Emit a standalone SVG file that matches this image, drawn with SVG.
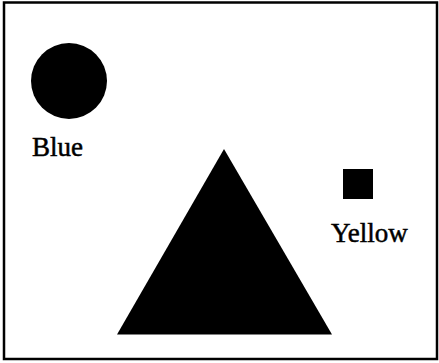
<svg xmlns="http://www.w3.org/2000/svg" width="439" height="363" viewBox="0 0 439 363">
<style>
.shape{fill:#000}
.lbl{font-family:"Liberation Serif","Times New Roman",serif;font-size:27px;fill:#000;stroke:#000;stroke-width:0.5}
</style>
<rect x="0" y="0" width="439" height="363" fill="#fff"/>
<rect x="4" y="2.5" width="433" height="356.5" fill="none" stroke="#000" stroke-width="2.5"/>
<g id="blue">
<circle class="shape" cx="69" cy="81" r="38"/>
<text class="lbl" x="32" y="156">Blue</text>
</g>
<g id="triangle">
<polygon class="shape" points="224,149 117,334.5 332,334.5"/>
</g>
<g id="yellow">
<rect class="shape" x="343" y="169" width="30" height="30"/>
<text class="lbl" x="331" y="242" font-size="26.5">Yellow</text>
</g>
<g id="connectors"/>
</svg>
